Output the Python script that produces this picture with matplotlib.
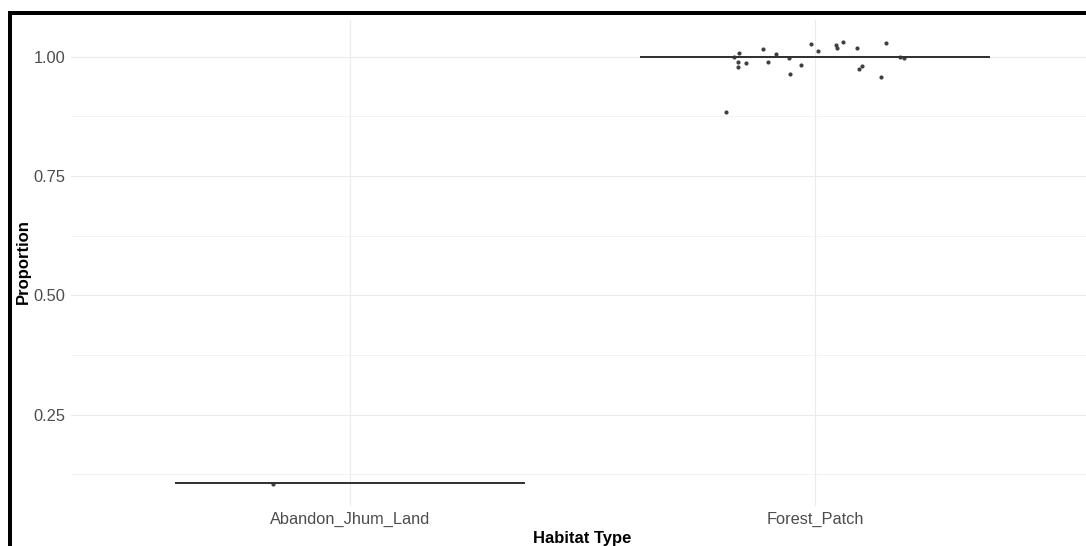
import matplotlib.pyplot as plt
from matplotlib.patches import Rectangle

plt.rcParams['font.family'] = ['Liberation Sans', 'DejaVu Sans']

habitats = ["Abandon_Jhum_Land", "Forest_Patch"]
medians = [0.108, 1.00]

# jittered observations (horizontal offset from category, proportion)
abandon_dx = [-0.165]
abandon_y = [0.105]
forest_dx = [-0.192, -0.174, -0.164, -0.165, -0.166, -0.149, -0.111, -0.102,
             -0.084, -0.055, -0.054, -0.031, -0.008, 0.006, 0.045, 0.048,
             0.060, 0.091, 0.095, 0.102, 0.143, 0.152, 0.183, 0.191]
forest_y = [0.884, 1.000, 1.007, 0.988, 0.979, 0.987, 1.016, 0.988,
            1.006, 0.998, 0.963, 0.983, 1.026, 1.012, 1.024, 1.019,
            1.031, 1.018, 0.974, 0.981, 0.958, 1.029, 1.000, 0.998]

W, H = 1086, 546
fig = plt.figure(figsize=(W / 100, H / 100), dpi=100)
ax = fig.add_axes([71 / W, (H - 506) / H, (1094 - 71) / W, 486 / H])

grid = "#EBEBEB"
ax.set_axisbelow(True)
for v in [0.125, 0.375, 0.625, 0.875]:
    ax.axhline(v, color=grid, lw=0.45, zorder=0)
for v in [0.25, 0.5, 0.75, 1.0]:
    ax.axhline(v, color=grid, lw=0.8, zorder=0)
for i in range(len(habitats)):
    ax.axvline(i, color=grid, lw=0.8, zorder=0)

# collapsed boxes: every quartile equals the median
stats = [dict(med=m, q1=m, q3=m, whislo=m, whishi=m, fliers=[]) for m in medians]
lc = "#333333"
ax.bxp(stats, positions=range(len(habitats)), widths=0.75, showcaps=False,
       boxprops=dict(color=lc, lw=1.2), medianprops=dict(color=lc, lw=1.4),
       whiskerprops=dict(color=lc, lw=1.2), manage_ticks=False)

pts = "#404040"
ax.plot([0 + d for d in abandon_dx], abandon_y, "o", ms=3.0, color=pts, mew=0)
ax.plot([1 + d for d in forest_dx], forest_y, "o", ms=3.0, color=pts, mew=0)

ax.set_xlim(-0.6, 1.6)
ax.set_ylim(0.059, 1.077)
ax.set_xticks(range(len(habitats)))
ax.set_xticklabels(habitats)
ax.set_yticks([0.25, 0.5, 0.75, 1.0])
ax.set_yticklabels(["0.25", "0.50", "0.75", "1.00"])
ax.tick_params(length=0, labelsize=11.8, labelcolor="#4D4D4D", pad=4)
for s in ax.spines.values():
    s.set_visible(False)

fig.text(23 / W, 1 - 262 / H, "Proportion", rotation=90, fontsize=12,
         fontweight="bold", ha="center", va="center")
fig.text(582 / W, 1 - 543 / H, "Habitat Type", fontsize=12,
         fontweight="bold", ha="center", va="baseline")

# frame lines along the top and left edge
fig.add_artist(Rectangle((8 / W, 1 - 15 / H), (W - 8) / W, 4 / H,
                         transform=fig.transFigure, color="black", lw=0))
fig.add_artist(Rectangle((8 / W, 0), 4 / W, 1 - 11 / H,
                         transform=fig.transFigure, color="black", lw=0))

fig.savefig("out.png", dpi=100)
